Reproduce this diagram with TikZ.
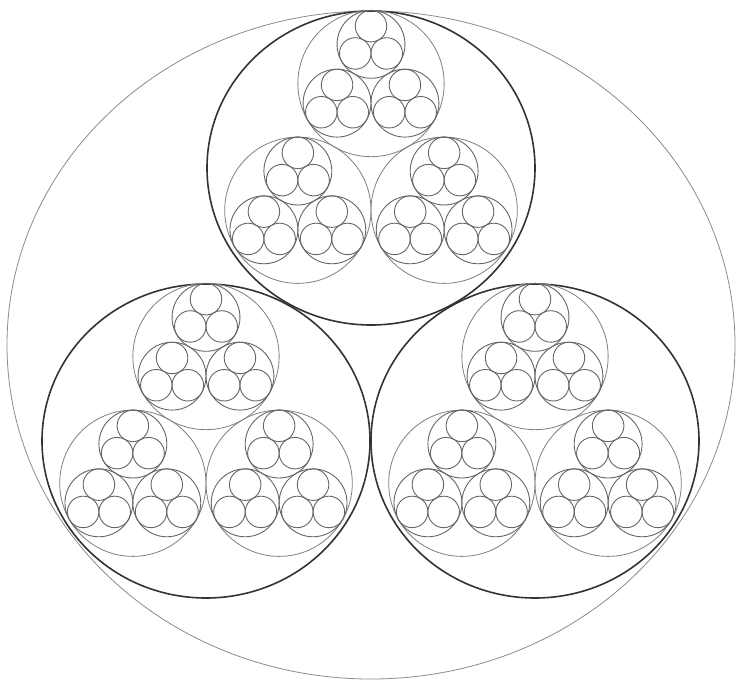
\documentclass[tikz,border=0pt]{standalone}
\begin{document}
\begin{tikzpicture}[x=1pt,y=-1pt,
  outerring/.style={draw=black!45,line width=0.8pt},
  bigring/.style={draw=black!80,line width=1.6pt},
  midring/.style={draw=black!50,line width=0.8pt},
  smallring/.style={draw=black!60,line width=0.9pt},
  tinyring/.style={draw=black!60,line width=0.9pt}]
\useasboundingbox (0,0) rectangle (736,680);
\fill[white] (0,0) rectangle (736,680);
% outer ellipse
\draw[outerring] (371,345) ellipse [x radius=364, y radius=334];
% three big rings and their recursive contents
\foreach \cx/\cy in {371/168, 206/441, 535/441} {
  \draw[bigring] (\cx,\cy) ellipse [x radius=164, y radius=157];
  \begin{scope}[shift={(\cx,\cy)}]
    \foreach \a in {-90,30,150} {
      \begin{scope}[shift={(\a:84.46)}]
        \draw[midring] (0,0) circle [radius=73.14];
        \foreach \b in {-90,30,150} {
          \begin{scope}[shift={(\b:39.19)}]
            \draw[smallring] (0,0) circle [radius=33.95];
            \foreach \c in {-90,30,150}
              \draw[tinyring] (\c:18.19) circle [radius=15.75];
          \end{scope}
        }
      \end{scope}
    }
  \end{scope}
}
\end{tikzpicture}
\end{document}
